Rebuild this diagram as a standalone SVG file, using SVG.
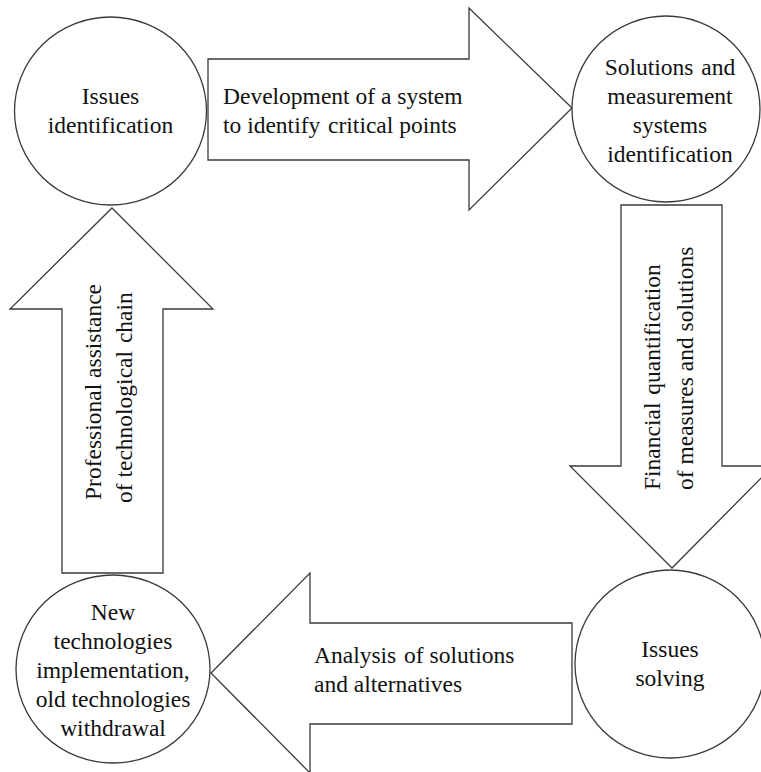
<svg xmlns="http://www.w3.org/2000/svg" width="761" height="772" viewBox="0 0 761 772">
<style>
.shape{fill:#fff;stroke:#3a3a3a;stroke-width:1.3}
.t{font-family:"Liberation Serif","Times New Roman",serif;font-size:23.5px;fill:#111}
.c{text-anchor:middle}
</style>
<rect width="761" height="772" fill="#fff"/>
<g id="connectors">
<g id="arrow-right">
<polygon class="shape" points="208,59 469,59 469,8 572,108 469,210 469,160 208,160"/>
<text class="t" x="223" y="104">Development of a system</text>
<text class="t" x="223" y="133">to identify&#8202; critical points</text>
</g>
<g id="arrow-down">
<polygon class="shape" points="621,205 722,205 722,466 773,466 672,568 570,466 621,466"/>
<text class="t" transform="translate(660,490) rotate(-90)">Financial&#8202; quantification</text>
<text class="t" transform="translate(693,490) rotate(-90)">of measures and solutions</text>
</g>
<g id="arrow-left">
<polygon class="shape" points="572,623 572,724 310,724 310,773 211,673 310,573 310,623"/>
<text class="t" x="314" y="663">Analysis&#8202; of solutions</text>
<text class="t" x="314" y="692">and alternatives</text>
</g>
<g id="arrow-up">
<polygon class="shape" points="62,573 163,573 163,309 213,309 112,208 10,309 62,309"/>
<text class="t" transform="translate(101,500) rotate(-90)">Professional assistance</text>
<text class="t" transform="translate(132,503) rotate(-90)">of technological&#8202; chain</text>
</g>
</g>
<g id="node-issues-identification">
<ellipse class="shape" cx="110.5" cy="111" rx="96" ry="94"/>
<text class="t c" x="110.5" y="104">Issues</text>
<text class="t c" x="110.5" y="133">identification</text>
</g>
<g id="node-solutions">
<ellipse class="shape" cx="666" cy="109" rx="94" ry="93"/>
<text class="t c" x="670" y="75">Solutions&#8202; and</text>
<text class="t c" x="670" y="104">measurement</text>
<text class="t c" x="670" y="133">systems</text>
<text class="t c" x="670" y="162">identification</text>
</g>
<g id="node-issues-solving">
<ellipse class="shape" cx="670" cy="664" rx="95" ry="94"/>
<text class="t c" x="670" y="657">Issues</text>
<text class="t c" x="670" y="686">solving</text>
</g>
<g id="node-new-technologies">
<ellipse class="shape" cx="113" cy="669" rx="97" ry="94"/>
<text class="t c" x="113" y="620">New</text>
<text class="t c" x="113" y="649">technologies</text>
<text class="t c" x="113" y="678">implementation,</text>
<text class="t c" x="113" y="707">old technologies</text>
<text class="t c" x="113" y="736">withdrawal</text>
</g>
</svg>
